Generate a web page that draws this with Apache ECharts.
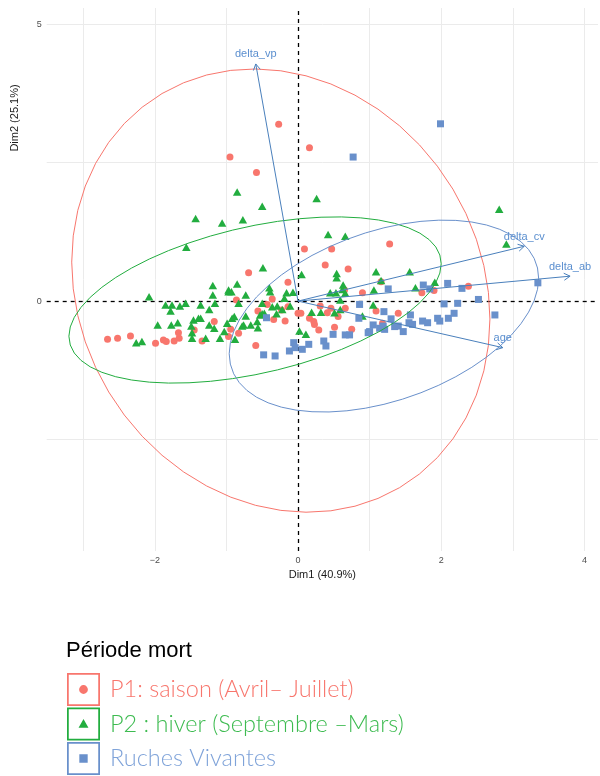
<!DOCTYPE html>
<html>
<head>
<meta charset="utf-8">
<title>ACP – Période mort</title>
<script src="https://cdn.jsdelivr.net/npm/echarts@6/dist/echarts.min.js"></script>
<style>
  html, body { margin: 0; padding: 0; background: #ffffff; }
  #chart { width: 600px; height: 776px; }
</style>
</head>
<body>
<div id="chart"></div>
<script>
// Individuals on the first factorial plane (Dim1, Dim2), by group
const p1Saison = [
  [-0.27, 3.19], [0.16, 2.77], [-0.95, 2.60], [-0.58, 2.32], [1.28, 1.03], [0.09, 0.94], [0.47, 0.94],
  [-2.66, -0.69], [-2.52, -0.67], [-2.34, -0.63], [-1.99, -0.76], [-1.88, -0.70], [-1.84, -0.73],
  [-1.73, -0.72], [-1.66, -0.67], [-1.67, -0.57], [-1.45, -0.52], [-1.34, -0.72], [-1.17, -0.37],
  [-0.97, -0.64], [-0.94, -0.51], [-0.83, -0.58], [-0.59, -0.80], [-0.86, 0.02], [-0.69, 0.51],
  [0.38, 0.65], [-0.14, 0.34], [-0.36, 0.04], [-0.56, -0.18], [-0.43, -0.06], [-0.23, -0.16],
  [-0.14, -0.10], [0.00, -0.22], [-0.34, -0.33], [-0.18, -0.36], [0.16, -0.31], [0.22, -0.37],
  [0.23, -0.42], [0.29, -0.52], [0.51, -0.47], [0.31, -0.09], [0.41, -0.21], [0.46, -0.13],
  [0.70, 0.58], [1.16, 0.35], [0.90, 0.15], [0.65, 0.20], [0.56, -0.28], [1.09, -0.18],
  [1.40, -0.22], [1.18, -0.40], [0.75, -0.51], [1.73, 0.15], [1.90, 0.19], [2.38, 0.27],
  [0.66, -0.13], [0.04, -0.22]
];

const p2Hiver = [
  [-0.85, 1.97], [-0.50, 1.71], [0.26, 1.85], [-1.43, 1.49], [-1.06, 1.41], [-0.77, 1.47],
  [2.81, 1.66], [2.91, 1.03], [-1.56, 0.97], [0.42, 1.20], [0.66, 1.17], [-1.19, 0.28],
  [-0.85, 0.31], [-0.97, 0.20], [-2.08, 0.08], [-1.19, 0.11], [-1.16, -0.04], [-0.97, 0.17],
  [-0.93, 0.17], [-0.73, 0.11], [-0.83, -0.04], [-0.49, 0.60], [-1.85, -0.07], [-1.76, -0.07],
  [-1.65, -0.09], [-1.78, -0.18], [-1.57, -0.04], [-1.36, -0.07], [-1.24, -0.15], [-1.77, -0.43],
  [-1.68, -0.39], [-1.96, -0.43], [-1.46, -0.34], [-1.39, -0.31], [-1.36, -0.31], [-1.49, -0.45],
  [-1.48, -0.57], [-1.48, -0.67], [-1.29, -0.67], [-1.09, -0.67], [-0.88, -0.69], [-2.26, -0.75],
  [-2.18, -0.73], [-1.24, -0.43], [-1.17, -0.49], [-1.03, -0.55], [-0.99, -0.40], [-0.92, -0.31],
  [-0.89, -0.28], [-0.76, -0.43], [-0.66, -0.43], [-0.57, -0.37], [-0.73, -0.27], [-0.50, -0.23],
  [-0.40, 0.24], [-0.39, 0.17], [-0.16, 0.15], [-0.07, 0.16], [0.05, 0.48], [-0.50, -0.04],
  [-0.36, -0.10], [-0.29, -0.09], [-0.22, -0.15], [-0.11, -0.09], [-0.30, -0.23], [-0.53, -0.25],
  [-0.47, -0.22], [-0.78, -0.45], [-0.56, -0.48], [0.02, -0.54], [0.11, -0.60], [0.19, -0.20],
  [0.32, -0.20], [0.45, 0.15], [0.53, 0.15], [0.54, 0.50], [0.54, 0.42], [1.09, 0.53],
  [1.56, 0.53], [0.63, 0.29], [0.62, 0.21], [0.66, 0.14], [1.16, 0.37], [1.06, 0.20],
  [1.64, 0.24], [1.91, 0.34], [0.59, 0.02], [0.59, -0.15], [1.05, -0.07], [0.90, -0.27],
  [0.51, -0.21], [-0.19, 0.05]
];

const ruchesVivantes = [
  [1.99, 3.20], [0.77, 2.60], [-0.44, -0.30], [-0.06, -0.75], [-0.12, -0.90], [-0.04, -0.84],
  [0.06, -0.87], [0.15, -0.78], [0.36, -0.72], [0.39, -0.81], [0.49, -0.60], [-0.48, -0.97],
  [-0.32, -0.99], [1.26, 0.22], [1.75, 0.29], [1.84, 0.22], [0.86, -0.06], [1.20, -0.19],
  [0.85, -0.31], [1.30, -0.32], [1.57, -0.25], [1.05, -0.43], [1.00, -0.55], [0.98, -0.57],
  [1.14, -0.49], [1.21, -0.51], [1.19, -0.45], [1.35, -0.46], [1.40, -0.45], [1.47, -0.55],
  [1.55, -0.39], [1.60, -0.42], [0.66, -0.61], [0.72, -0.61], [1.74, -0.36], [1.81, -0.39],
  [1.95, -0.31], [1.98, -0.36], [2.09, 0.32], [2.29, 0.23], [3.35, 0.33], [2.52, 0.03],
  [2.04, -0.05], [2.23, -0.04], [2.75, -0.25], [2.10, -0.31], [2.18, -0.22]
];

// Group names (legend order)
const groupNames = ['P1: saison (Avril– Juillet)', 'P2 : hiver (Septembre –Mars)', 'Ruches Vivantes'];
const groupColors = ['#F8766D', '#22AD3F', '#6990CB'];
const legendTextColors = ['#F8766D', '#3DBB50', '#7FA3D9'];

// Concentration ellipses: centre and shape matrix [sxx, sxy, syy]
const ellipseCentres = [[-0.24, 0.19], [-0.60, 0.02], [1.20, -0.27]];
const ellipseShapes = [[8.53, -1.50, 16.0], [6.76, 1.70, 2.25], [4.67, 1.47, 3.00]];

// Variable arrows (correlation circle, rescaled)
const varNames = ['delta_vp', 'delta_cv', 'delta_ab', 'age'];
const varDim1 = [-0.59, 3.16, 3.80, 2.86];
const varDim2 = [4.28, 0.99, 0.45, -0.84];

// Axis ticks and grid
const xTickLabels = [-2, 0, 2, 4];
const yTickLabels = [0, 5];
const xGridValues = [-3, -2, -1, 1, 2, 3, 4];
const yGridValues = [-2.5, 2.5, 5];

function ellipsePath(centre, shape, n) {
  const l11 = Math.sqrt(shape[0]);
  const l21 = shape[1] / l11;
  const l22 = Math.sqrt(shape[2] - l21 * l21);
  const pts = [];
  for (let i = 0; i <= n; i++) {
    const t = (2 * Math.PI * i) / n;
    const c = Math.cos(t), s = Math.sin(t);
    pts.push([centre[0] + l11 * c, centre[1] + l21 * c + l22 * s]);
  }
  return pts;
}

const arrowData = varNames.map((n, i) => [varDim1[i], varDim2[i]]);

const iconRing = 'M0 0 H30 V30 H0 Z M1.6 1.6 V28.4 H28.4 V1.6 Z ';
const legendIcons = [
  'path://' + iconRing + 'M11 15 A4 4 0 1 0 19 15 A4 4 0 1 0 11 15 Z',
  'path://' + iconRing + 'M15 10.5 L19.5 18.5 L10.5 18.5 Z',
  'path://' + iconRing + 'M11.2 11.2 H18.8 V18.8 H11.2 Z'
];

const chart = echarts.init(document.getElementById('chart'), null, { renderer: 'canvas' });

const axisFont = 'Liberation Sans';
const option = {
  backgroundColor: '#ffffff',
  animation: false,
  title: {
    text: 'Période mort',
    left: 66,
    top: 640,
    padding: 0,
    textStyle: { fontFamily: axisFont, fontSize: 22, fontWeight: 'normal', color: '#000000' }
  },
  legend: {
    orient: 'vertical',
    left: 67,
    top: 673,
    padding: 0,
    itemWidth: 33,
    itemHeight: 33,
    itemGap: 1.5,
    selectedMode: false,
    data: groupNames.map((n, i) => ({
      name: n,
      icon: legendIcons[i],
      textStyle: { color: legendTextColors[i] }
    })),
    textStyle: { fontFamily: 'Lato', fontWeight: 300, fontSize: 23.5, padding: [7, 0, 0, 5] }
  },
  grid: { left: 46.7, right: 2, top: 8, bottom: 225, outerBoundsMode: 'none' },
  xAxis: {
    type: 'value',
    min: -3.51,
    max: 4.19,
    name: 'Dim1 (40.9%)',
    nameLocation: 'middle',
    nameGap: 16,
    nameTextStyle: { fontFamily: axisFont, fontSize: 11, color: '#1a1a1a' },
    axisLine: { show: false },
    axisTick: { show: false },
    splitLine: { show: false },
    axisLabel: {
      customValues: xTickLabels,
      margin: 5,
      fontFamily: axisFont,
      fontSize: 9,
      color: '#4d4d4d',
      formatter: v => String(v).replace('-', '\u2212')
    }
  },
  yAxis: {
    type: 'value',
    min: -4.51,
    max: 5.29,
    axisLine: { show: false },
    axisTick: { show: false },
    splitLine: { show: false },
    axisLabel: {
      customValues: yTickLabels,
      margin: 5,
      fontFamily: axisFont,
      fontSize: 9,
      color: '#4d4d4d'
    }
  },
  graphic: [{
    type: 'text',
    x: 15,
    y: 118,
    rotation: Math.PI / 2,
    style: {
      text: 'Dim2 (25.1%)',
      font: '11px "Liberation Sans"',
      fill: '#1a1a1a',
      textAlign: 'center',
      textVerticalAlign: 'middle'
    }
  }],
  series: [
    {
      name: 'grille',
      type: 'line',
      data: [],
      silent: true,
      z: 0,
      markLine: {
        silent: true,
        symbol: 'none',
        animation: false,
        z: 0,
        label: { show: false },
        lineStyle: { color: '#EBEBEB', width: 1, type: 'solid' },
        data: xGridValues.map(v => ({ xAxis: v })).concat(yGridValues.map(v => ({ yAxis: v })))
      }
    },
    {
      name: 'origine',
      type: 'line',
      data: [],
      silent: true,
      z: 1,
      markLine: {
        silent: true,
        symbol: 'none',
        animation: false,
        z: 1,
        label: { show: false },
        lineStyle: { color: '#000000', width: 1.3, type: [4, 4] },
        data: [{ xAxis: 0 }, { yAxis: 0 }]
      }
    },
    {
      name: groupNames[0],
      type: 'scatter',
      data: p1Saison,
      symbol: 'circle',
      symbolSize: 7,
      itemStyle: { color: groupColors[0], opacity: 1 },
      z: 10
    },
    {
      name: groupNames[1],
      type: 'scatter',
      data: p2Hiver,
      symbol: 'triangle',
      symbolSize: [8.5, 7.5],
      itemStyle: { color: groupColors[1], opacity: 1 },
      z: 10
    },
    {
      name: groupNames[2],
      type: 'scatter',
      data: ruchesVivantes,
      symbol: 'rect',
      symbolSize: 7,
      itemStyle: { color: groupColors[2], opacity: 1 },
      z: 10
    }
  ].concat(ellipseCentres.map((c, i) => ({
    name: 'ellipse-' + i,
    type: 'line',
    data: ellipsePath(c, ellipseShapes[i], 52),
    showSymbol: false,
    silent: true,
    lineStyle: { color: groupColors[i], width: 1 },
    z: 11
  }))).concat([{
    name: 'variables',
    type: 'custom',
    data: arrowData,
    silent: true,
    z: 12,
    renderItem: function (params, api) {
      const o = api.coord([0, 0]);
      const t = api.coord([api.value(0), api.value(1)]);
      const ang = Math.atan2(t[1] - o[1], t[0] - o[0]);
      const len = 7, spread = Math.PI / 6;
      const h1 = [t[0] - len * Math.cos(ang - spread), t[1] - len * Math.sin(ang - spread)];
      const h2 = [t[0] - len * Math.cos(ang + spread), t[1] - len * Math.sin(ang + spread)];
      const stroke = '#4A80BC';
      return {
        type: 'group',
        children: [
          { type: 'line', shape: { x1: o[0], y1: o[1], x2: t[0], y2: t[1] }, style: { stroke: stroke, lineWidth: 1 } },
          { type: 'polyline', shape: { points: [h1, t, h2] }, style: { stroke: stroke, fill: null, lineWidth: 1 } },
          {
            type: 'text',
            x: t[0],
            y: t[1] - 4,
            style: {
              text: varNames[params.dataIndex],
              textAlign: 'center',
              textVerticalAlign: 'bottom',
              fill: '#5B8FCF',
              font: '11px "Liberation Sans"'
            }
          }
        ]
      };
    }
  }])
};

chart.setOption(option);
</script>
</body>
</html>
